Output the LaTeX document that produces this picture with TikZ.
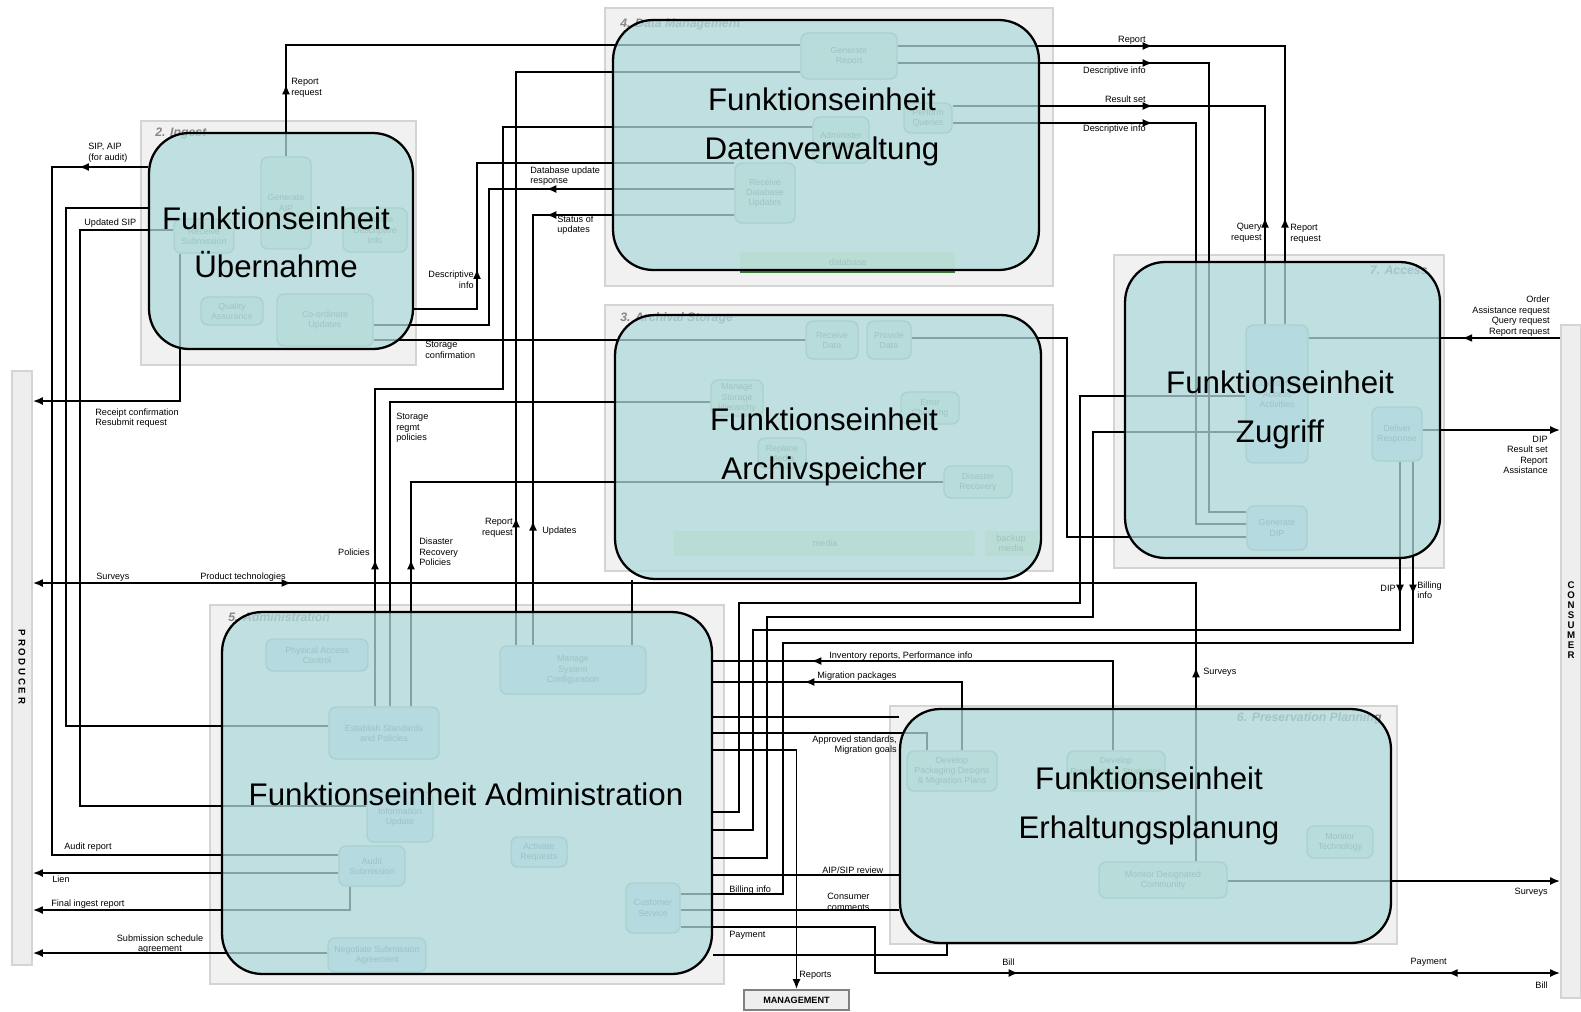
\documentclass[tikz,border=0pt]{standalone}
\usepackage{fontspec}
\setmainfont{Liberation Sans}
\usetikzlibrary{
  arrows.meta,
  positioning,
  decorations.markings,
  backgrounds
}
\definecolor{boxteal}{RGB}{176,217,220}
\definecolor{panelfill}{RGB}{241,241,241}
\definecolor{paneldraw}{RGB}{212,212,212}
\definecolor{paneltext}{RGB}{135,135,135}
\definecolor{subfill}{RGB}{205,232,212}
\definecolor{subfillb}{RGB}{198,222,232}
\definecolor{subdraw}{RGB}{150,188,172}
\definecolor{subtext}{RGB}{105,128,122}
\definecolor{barfill}{RGB}{214,236,196}
\definecolor{dbline}{RGB}{60,120,60}
\definecolor{sidefill}{RGB}{238,238,238}
\pgfdeclarelayer{panels}
\pgfdeclarelayer{inner}
\pgfdeclarelayer{wires}
\pgfsetlayers{panels,inner,wires,main}
\tikzset{
funcbox/.style={
  draw=black,
  line width=1.3pt,
  rounded corners=0.8cm,
  fill=boxteal,
  fill opacity=0.75,
  inner sep=0pt
},
functext/.style={
  font=\fontsize{17.8}{27.5}\selectfont,
  align=center,
  text=black
},
panel/.style={
  fill=panelfill,
  draw=paneldraw,
  line width=1.2pt
},
paneltitle/.style={
  font=\fontsize{7}{8}\selectfont\bfseries\itshape,
  text=paneltext,
  inner sep=0pt
},
subbox/.style={
  draw=subdraw,
  fill=subfill,
  rounded corners=4pt,
  line width=0.8pt,
  align=center,
  font=\fontsize{5}{5.8}\selectfont,
  text=subtext,
  inner sep=0pt
},
subboxb/.style={
  subbox,
  fill=subfillb
},
sidebar/.style={
  draw=paneldraw,
  fill=sidefill,
  line width=1pt,
  inner sep=0pt
},
lbl/.style={
  font=\fontsize{5.2}{6}\selectfont,
  align=left,
  inner sep=0pt
},
wire/.style={
  draw=black,
  line width=1pt
},
tipend/.style={
  -{Latex[length=2mm,width=1.6mm]}
},
mk/.style={
  postaction={decorate,decoration={markings,
    mark=at position #1 with {\arrow{Latex[length=2mm,width=1.6mm]}}}}
},
mkr/.style={
  postaction={decorate,decoration={markings,
    mark=at position #1 with {\arrowreversed{Latex[length=2mm,width=1.6mm]}}}}
}
}

\begin{document}
\begin{tikzpicture}[x=0.02cm,y=-0.02cm]
  \useasboundingbox (0,0) rectangle (1581,1011);

  % grey functional panels
  \begin{pgfonlayer}{panels}
    \draw[panel] (605,8) rectangle (1053,286);
    \draw[panel] (141,121) rectangle (416,365);
    \draw[panel] (605,305) rectangle (1053,571);
    \draw[panel] (1114,255) rectangle (1444,568);
    \draw[panel] (210,605) rectangle (724,984);
    \draw[panel] (890,706) rectangle (1397,944);
    \node[paneltitle, anchor=west] (dmtitle) at (620,25) {4. Data Management};
    \node[paneltitle, anchor=west] (ingtitle) at (155,133) {2. Ingest};
    \node[paneltitle, anchor=west] (astitle) at (620,318) {3. Archival Storage};
    \node[paneltitle, anchor=east] (acctitle) at (1428,270) {7. Access};
    \node[paneltitle, anchor=west] (admtitle) at (228,617) {5. Administration};
    \node[paneltitle, anchor=east] (pptitle) at (1382,718) {6. Preservation Planning};
  \end{pgfonlayer}

  % faded inner functions
  \begin{pgfonlayer}{inner}
    \node[subbox, minimum width=1.92cm, minimum height=0.92cm] (genrep) at (849,56) {Generate\\Report};
    \node[subbox, minimum width=1.12cm, minimum height=0.92cm] (admdb) at (841,140) {Administer\\Database};
    \node[subbox, minimum width=0.96cm, minimum height=0.6cm] (perfq) at (928,118) {Perform\\Queries};
    \node[subbox, minimum width=1.2cm, minimum height=1.2cm] (recdb) at (765,193) {Receive\\Database\\Updates};
    \fill[barfill] (740,252) rectangle (955,272);
    \draw[dbline, line width=1.5pt] (740,272) -- (955,272);
    \node[lbl, text=subtext] (dbase) at (848,262) {database};

    \node[subbox, minimum width=1.2cm, minimum height=0.68cm] (recsub) at (204,236) {Receive\\Submission};
    \node[subbox, minimum width=1.0cm, minimum height=1.84cm] (genaip) at (286,203) {Generate\\AIP};
    \node[subbox, minimum width=1.28cm, minimum height=0.88cm] (gendi) at (375,230) {Generate\\Descriptive\\Info};
    \node[subbox, minimum width=1.24cm, minimum height=0.56cm] (qa) at (232,311) {Quality\\Assurance};
    \node[subbox, minimum width=1.92cm, minimum height=1.04cm] (coord) at (325,320) {Co-ordinate\\Updates};

    \node[subbox, minimum width=1.04cm, minimum height=0.76cm] (recdata) at (832,340) {Receive\\Data};
    \node[subbox, minimum width=0.88cm, minimum height=0.76cm] (provdata) at (889,340) {Provide\\Data};
    \node[subbox, minimum width=1.04cm, minimum height=0.72cm] (manstor) at (737,398) {Manage\\Storage\\Hierarchy};
    \node[subbox, minimum width=1.16cm, minimum height=0.64cm] (errchk) at (930,408) {Error\\Checking};
    \node[subbox, minimum width=0.96cm, minimum height=0.6cm] (repmed) at (782,453) {Replace\\Media};
    \node[subbox, minimum width=1.36cm, minimum height=0.64cm] (disrec) at (978,482) {Disaster\\Recovery};
    \fill[barfill] (674,531) rectangle (975,556);
    \fill[barfill] (985,531) rectangle (1038,556);
    \node[lbl, text=subtext] (media) at (825,543) {media};
    \node[lbl, text=subtext, align=center] (bkmedia) at (1011,543) {backup\\media};

    \node[subboxb, minimum width=1.24cm, minimum height=2.76cm] (coordacc) at (1277,394) {Co-ordinate\\Access\\Activities};
    \node[subboxb, minimum width=1.0cm, minimum height=1.08cm] (deliver) at (1397,434) {Deliver\\Response};
    \node[subboxb, minimum width=1.2cm, minimum height=0.88cm] (gendip) at (1277,528) {Generate\\DIP};

    \node[subboxb, minimum width=2.04cm, minimum height=0.64cm] (pac) at (317,655) {Physical Access\\Control};
    \node[subboxb, minimum width=2.92cm, minimum height=0.96cm] (msc) at (573,670) {Manage\\System\\Configuration};
    \node[subboxb, minimum width=2.2cm, minimum height=1.04cm] (esp) at (384,733) {Establish Standards\\and Policies};
    \node[subboxb, minimum width=1.32cm, minimum height=1.0cm] (infoupd) at (400,817) {Information\\Update};
    \node[subboxb, minimum width=1.32cm, minimum height=0.8cm] (audsub) at (372,866) {Audit\\Submission};
    \node[subboxb, minimum width=1.12cm, minimum height=0.6cm] (actreq) at (539,852) {Activate\\Requests};
    \node[subboxb, minimum width=1.08cm, minimum height=1.0cm] (custserv) at (653,908) {Customer\\Service};
    \node[subboxb, minimum width=1.96cm, minimum height=0.68cm] (negsub) at (377,955) {Negotiate Submission\\Agreement};

    \node[subbox, minimum width=1.8cm, minimum height=0.8cm] (devpack) at (952,771) {Develop\\Packaging Designs\\\& Migration Plans};
    \node[subbox, minimum width=1.96cm, minimum height=0.8cm] (devpres) at (1116,771) {Develop\\Preservation Strategies\\and Standards};
    \node[subbox, minimum width=2.56cm, minimum height=0.72cm] (mondc) at (1163,880) {Monitor Designated\\Community};
    \node[subbox, minimum width=1.32cm, minimum height=0.64cm] (montech) at (1340,842) {Monitor\\Technology};
  \end{pgfonlayer}

  % functional entities
  \node[funcbox, minimum width=8.52cm, minimum height=5.0cm] (dm) at (826,145) {};
  \node[funcbox, minimum width=5.28cm, minimum height=4.32cm] (ingest) at (281,241) {};
  \node[funcbox, minimum width=8.52cm, minimum height=5.28cm] (as) at (828,447) {};
  \node[funcbox, minimum width=6.3cm, minimum height=5.92cm] (access) at (1282.5,410) {};
  \node[funcbox, minimum width=9.8cm, minimum height=7.24cm] (admin) at (467,793) {};
  \node[funcbox, minimum width=9.82cm, minimum height=4.68cm] (pp) at (1145.5,826) {};

  \node[functext] (dmtext) at (822,127) {Funktionseinheit\\Datenverwaltung};
  \node[functext] (ingtext) at (276,242) {Funktionseinheit\\Übernahme};
  \node[functext] (astext) at (824,447) {Funktionseinheit\\Archivspeicher};
  \node[functext] (acctext) at (1280,410) {Funktionseinheit\\Zugriff};
  \node[functext] (admtext) at (466,794) {Funktionseinheit Administration};
  \node[functext] (pptext) at (1149,806) {Funktionseinheit\\Erhaltungsplanung};

  % external entities
  \node[sidebar, minimum width=0.4cm, minimum height=11.88cm] (producer) at (22,668) {};
  \node[sidebar, minimum width=0.4cm, minimum height=13.46cm] (consumer) at (1571,661.5) {};
  \node[sidebar, draw=gray, minimum width=2.1cm, minimum height=0.4cm,
    font=\fontsize{5.2}{6}\selectfont\bfseries] (mgmt) at (796.5,1000) {MANAGEMENT};
  \node[rotate=-90, font=\fontsize{5.5}{6}\selectfont\bfseries] (prodtext) at (22,667) {P R O D U C E R};
  \node[align=center, inner sep=0pt, font=\fontsize{5.5}{5.7}\selectfont\bfseries] (constext) at (1571,620) {C\\O\\N\\S\\U\\M\\E\\R};

  % flows
  \begin{pgfonlayer}{wires}
    % Ingest
    \draw[wire, mk=1.44cm] (genaip.north) |- (genrep.west |- 0,45);
    \draw[wire, mk=1.38cm] (ingest.west |- 0,167) -| (52,500) |- (audsub.west |- 0,855);
    \draw[wire] (esp.west |- 0,726) -| (66,400) |- (ingest.west |- 0,208);
    \draw[wire] (infoupd.west |- 0,806) -| (80,400) |- (recsub.west |- 0,230);
    \draw[wire, tipend] (recsub.south -| 180,0) |- (producer.east |- 0,401);
    \draw[wire, mk=2.06cm] (ingest.east |- 0,309) -| (477,240) |- (recdb.west |- 0,163);
    \draw[wire, mk=3.76cm] (recdb.west |- 0,189) -| (489,250) |- (coord.east |- 0,325);
    \draw[wire] (recdata.west |- 0,340) -- (coord.east |- 0,340);

    % Producer
    \draw[wire, mk=3.88cm, mkr=23.66cm, tipend] (mondc.north -| 1196,0) |- (producer.east |- 0,583);
    \draw[wire, tipend] (audsub.west |- 0,873) -- (producer.east |- 0,873);
    \draw[wire, tipend] (audsub.south -| 350,0) |- (producer.east |- 0,910);
    \draw[wire, tipend] (negsub.west |- 0,953) -- (producer.east |- 0,953);

    % Administration up
    \draw[wire, mk=3.76cm, mkr=10.14cm] (recdb.west |- 0,215) -| (msc.north -| 533,0);
    \draw[wire, mk=2.94cm] (esp.north -| 375,0) |- (503,389) |- (admdb.west |- 0,127);
    \draw[wire, mk=2.56cm] (msc.north -| 516,0) |- (genrep.west |- 0,72);
    \draw[wire] (esp.north -| 390,0) |- (manstor.west |- 0,402);
    \draw[wire, mk=2.94cm] (esp.north -| 411,0) |- (disrec.west |- 0,482);
    \draw[wire] (as.south -| 632,0) -- (msc.north -| 632,0);

    % Data Management -> Access
    \draw[wire, mk=5.1cm, mkr=11.18cm] (genrep.east |- 0,46) -| (coordacc.north -| 1285,0);
    \draw[wire, mk=5.1cm] (genrep.east |- 0,63) -| (1209,300) |- (gendip.west |- 0,512);
    \draw[wire, mk=4.0cm, mkr=8.48cm] (perfq.east |- 0,106) -| (coordacc.north -| 1265,0);
    \draw[wire, mk=4.0cm] (perfq.east |- 0,123) -| (1196,300) |- (gendip.west |- 0,524);

    % Access
    \draw[wire] (gendip.west |- 0,537) -| (1067,400) |- (provdata.east |- 0,338);
    \draw[wire] (coordacc.west |- 0,396) -| (1080,500) |- (739,603) |- (admin.east |- 0,812);
    \draw[wire] (coordacc.west |- 0,432) -| (1093,500) |- (767,617) |- (admin.east |- 0,858);
    \draw[wire, mk=2.66cm] (deliver.south -| 1400,0) |- (753,630) |- (admin.east |- 0,830);
    \draw[wire, mk=2.66cm] (deliver.south -| 1413,0) |- (783,643) |- (custserv.east |- 0,894);
    \draw[wire, mk=1.96cm] (consumer.west |- 0,338) -- (coordacc.east |- 0,338);
    \draw[wire, tipend] (deliver.east |- 0,430) -- (consumer.west |- 0,430);

    % Preservation Planning
    \draw[wire, mk=7.82cm] (devpres.north -| 1113,0) |- (admin.east |- 0,661);
    \draw[wire, mk=4.52cm] (devpack.north -| 962,0) |- (admin.east |- 0,682);
    \draw[wire] (pp.west |- 0,717) -- (admin.east |- 0,717);
    \draw[wire] (admin.east |- 0,733) -| (devpack.north -| 927,0);
    \draw[wire, tipend] (admin.east |- 0,750) -| (mgmt.north);
    \draw[wire] (pp.west |- 0,875) -- (admin.east |- 0,875);
    \draw[wire] (custserv.east |- 0,910) -- (pp.west |- 0,910);
    \draw[wire, mk=7.68cm, mkr=16.26cm, tipend] (custserv.east |- 0,927) -| (875,950) |- (consumer.west |- 0,973);
    \draw[wire] (admin.east |- 0,955) -| (pp.south -| 947,0);
    \draw[wire, tipend] (mondc.east |- 0,881) -- (consumer.west |- 0,881);
  \end{pgfonlayer}

  % flow labels
  \node[lbl, anchor=west] (l1) at (291,88) {Report\\request};
  \node[lbl, anchor=west] (l2) at (88,153) {SIP, AIP\\(for audit)};
  \node[lbl, anchor=west] (l3) at (84,223) {Updated SIP};
  \node[lbl, anchor=west] (l4) at (95,418) {Receipt confirmation\\Resubmit request};
  \node[lbl, anchor=west] (l5) at (96,577) {Surveys};
  \node[lbl, anchor=west] (l6) at (200,577) {Product technologies};
  \node[lbl, anchor=west] (l7) at (64,847) {Audit report};
  \node[lbl, anchor=west] (l8) at (52,879) {Lien};
  \node[lbl, anchor=west] (l9) at (51,904) {Final ingest report};
  \node[lbl, align=center] (l10) at (160,944) {Submission schedule\\agreement};
  \node[lbl, anchor=east, align=right] (l11) at (474,280) {Descriptive\\info};
  \node[lbl, anchor=west] (l12) at (530,176) {Database update\\response};
  \node[lbl, anchor=west] (l13) at (557,225) {Status of\\updates};
  \node[lbl, anchor=west] (l14) at (425,350) {Storage\\confirmation};
  \node[lbl, anchor=west] (l15) at (396,428) {Storage\\regmt\\policies};
  \node[lbl, anchor=east] (l16) at (370,552) {Policies};
  \node[lbl, anchor=west] (l17) at (419,552) {Disaster\\Recovery\\Policies};
  \node[lbl, anchor=east, align=right] (l18) at (513,528) {Report\\request};
  \node[lbl, anchor=west] (l19) at (542,531) {Updates};
  \node[lbl, anchor=east] (l20) at (1146,40) {Report};
  \node[lbl, anchor=east] (l21) at (1146,71) {Descriptive info};
  \node[lbl, anchor=east] (l22) at (1146,99) {Result set};
  \node[lbl, anchor=east] (l23) at (1146,129) {Descriptive info};
  \node[lbl, anchor=east, align=right] (l24) at (1262,233) {Query\\request};
  \node[lbl, anchor=west] (l25) at (1290,234) {Report\\request};
  \node[lbl, anchor=east, align=right] (l26) at (1550,316) {Order\\Assistance request\\Query request\\Report request};
  \node[lbl, anchor=east, align=right] (l27) at (1548,455) {DIP\\Result set\\Report\\Assistance};
  \node[lbl, anchor=east] (l28) at (1396,588) {DIP};
  \node[lbl, anchor=west] (l29) at (1417,590) {Billing\\info};
  \node[lbl, anchor=west] (l30) at (1203,672) {Surveys};
  \node[lbl, anchor=west] (l31) at (829,656) {Inventory reports, Performance info};
  \node[lbl, anchor=west] (l32) at (817,676) {Migration packages};
  \node[lbl, anchor=east, align=right] (l33) at (897,745) {Approved standards,\\Migration goals};
  \node[lbl, anchor=west] (l34) at (822,870) {AIP/SIP review};
  \node[lbl, anchor=west] (l35) at (729,890) {Billing info};
  \node[lbl, anchor=west] (l36) at (827,902) {Consumer\\comments};
  \node[lbl, anchor=west] (l37) at (729,935) {Payment};
  \node[lbl, anchor=west] (l38) at (799,975) {Reports};
  \node[lbl, anchor=west] (l39) at (1002,962) {Bill};
  \node[lbl, anchor=east] (l40) at (1447,962) {Payment};
  \node[lbl, anchor=east] (l41) at (1548,985) {Bill};
  \node[lbl, anchor=east] (l42) at (1548,892) {Surveys};

\end{tikzpicture}
\end{document}
